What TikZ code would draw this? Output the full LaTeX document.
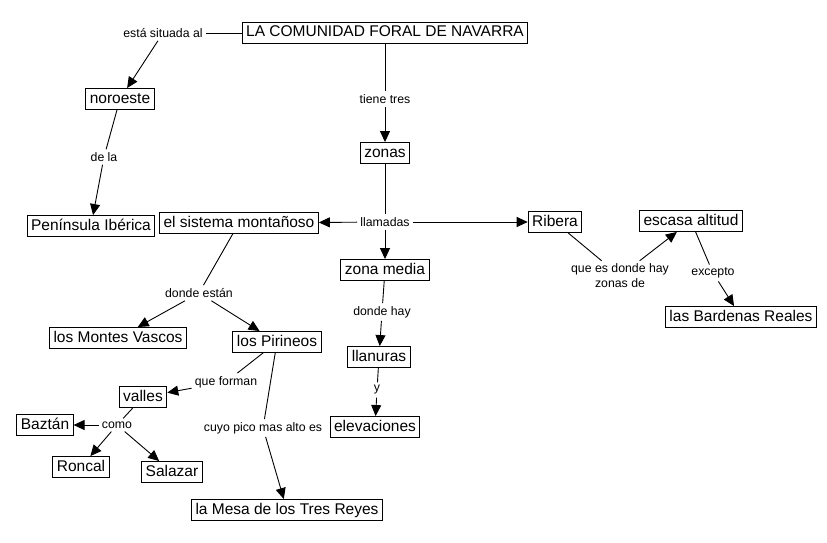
\documentclass[tikz,border=0pt]{standalone}
\usepackage{fontspec}
\setmainfont{Liberation Sans}
\usepackage{tikz}
\usetikzlibrary{arrows.meta}
\tikzstyle{concept} = [
	rectangle,
	draw=black,
	line width=0.9pt,
	fill=white,
	inner xsep=4pt,
	inner ysep=3pt,
	text height=11.5pt,
	text depth=3.5pt,
	font=\fontsize{15.5}{17}\selectfont
]
\tikzstyle{link} = [
	rectangle,
	inner sep=3pt,
	align=center,
	font=\fontsize{12.3}{15}\selectfont
]
\tikzstyle{line} = [line width=0.9pt]
\tikzstyle{arrow} = [line width=0.9pt, -{Triangle[length=11pt,width=10pt]}]

\begin{document}
\begin{tikzpicture}[x=1pt, y=-1pt]
            \useasboundingbox [fill=white] (0,0) rectangle (827,543);
            \node (navarra) [concept] at (385,33) {LA COMUNIDAD FORAL DE NAVARRA};
            \node (situada) [link] at (163,33) {está situada al};
            \node (noroeste) [concept] at (120,99) {noroeste};
            \node (dela) [link] at (104,157) {de la};
            \node (peninsula) [concept] at (91,226) {Península Ibérica};
            \node (tiene) [link] at (385,99) {tiene tres};
            \node (zonas) [concept] at (385,153) {zonas};
            \node (llamadas) [link] at (385,222) {llamadas};
            \node (sistema) [concept] at (239,223) {el sistema montañoso};
            \node (media) [concept] at (385,270) {zona media};
            \node (ribera) [concept] at (555,222) {Ribera};
            \node (dondeestan) [link] at (199,293) {donde están};
            \node (montes) [concept] at (118,338) {los Montes Vascos};
            \node (pirineos) [concept] at (277,342) {los Pirineos};
            \node (forman) [link] at (226,382) {que forman};
            \node (valles) [concept] at (143,397) {valles};
            \node (como) [link] at (117,425) {como};
            \node (baztan) [concept] at (45,425) {Baztán};
            \node (roncal) [concept] at (81,467) {Roncal};
            \node (salazar) [concept] at (172,472) {Salazar};
            \node (pico) [link] at (263,428) {cuyo pico mas alto es};
            \node (mesa) [concept] at (287,510) {la Mesa de los Tres Reyes};
            \node (dondehay) [link] at (382,312) {donde hay};
            \node (llanuras) [concept] at (379,357) {llanuras};
            \node (ylink) [link] at (377,390) {y};
            \node (elevaciones) [concept] at (375,427) {elevaciones};
            \node (zonasde) [link] at (620,276) {que es donde hay\\zonas de};
            \node (altitud) [concept] at (691,221) {escasa altitud};
            \node (excepto) [link] at (713,273) {excepto};
            \node (bardenas) [concept] at (741,317) {las Bardenas Reales};
            % connectors
            \draw [line] (navarra) -- (situada);
            \draw [arrow] (situada) -- (noroeste);
            \draw [line] (noroeste) -- (dela);
            \draw [arrow] (dela) -- (peninsula);
            \draw [line] (navarra) -- (tiene);
            \draw [arrow] (tiene) -- (zonas);
            \draw [line] (zonas) -- (llamadas);
            \draw [arrow] (llamadas) -- (sistema);
            \draw [arrow] (llamadas) -- (media);
            \draw [arrow] (llamadas) -- (ribera);
            \draw [line] (sistema) -- (dondeestan);
            \draw [arrow] (dondeestan) -- (montes);
            \draw [arrow] (dondeestan) -- (pirineos);
            \draw [line] (pirineos) -- (forman);
            \draw [arrow] (forman) -- (valles);
            \draw [line] (valles) -- (como);
            \draw [arrow] (como) -- (baztan);
            \draw [arrow] (como) -- (roncal);
            \draw [arrow] (como) -- (salazar);
            \draw [line] (pirineos) -- (pico);
            \draw [arrow] (pico) -- (mesa);
            \draw [line] (media) -- (dondehay);
            \draw [arrow] (dondehay) -- (llanuras);
            \draw [line] (llanuras) -- (ylink);
            \draw [arrow] (ylink) -- (elevaciones);
            \draw [line] (ribera) -- (zonasde);
            \draw [arrow] (zonasde) -- (altitud);
            \draw [line] (altitud) -- (excepto);
            \draw [arrow] (excepto) -- (bardenas);
          \end{tikzpicture}
\end{document}
